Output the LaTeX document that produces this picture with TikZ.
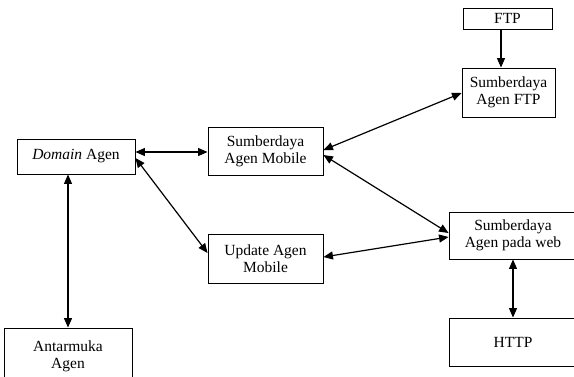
\documentclass[tikz,border=0pt]{standalone}
\usepackage{fontspec}
\setmainfont{Liberation Serif}
\usetikzlibrary{arrows.meta}
\begin{document}
\begin{tikzpicture}[x=1pt,y=-1pt,
  box/.style={draw,line width=0.9pt,align=center,inner sep=0pt,
    font=\fontsize{15.5}{17}\selectfont},
  link/.style={line width=1.2pt,{Triangle[length=9.5pt,width=8pt]}-{Triangle[length=9.5pt,width=8pt]}},
  feed/.style={line width=1.2pt,-{Triangle[length=9.5pt,width=8pt]}}]
\useasboundingbox (0,0) rectangle (574,376);

% agent blocks
\node[box,minimum width=118pt,minimum height=35pt] (dom) at (76,156.5) {\textit{Domain} Agen};
\node[box,minimum width=115pt,minimum height=48pt] (sam) at (265.5,151) {Sumberdaya\\Agen Mobile};
\node[box,minimum width=115pt,minimum height=49pt] (upd) at (265.5,258.5) {Update Agen\\Mobile};
\node[box,minimum width=89pt,minimum height=21pt] (ftp) at (507.5,18.5) {FTP};
\node[box,minimum width=93pt,minimum height=49pt] (saftp) at (508.5,92.5) {Sumberdaya\\Agen FTP};
\node[box,minimum width=128pt,minimum height=47pt] (web) at (513,235.5) {Sumberdaya\\Agen pada web};
\node[box,minimum width=128pt,minimum height=48pt] (http) at (513,342) {HTTP};
\node[box,minimum width=128pt,minimum height=56pt] (ui) at (68,356) {Antarmuka\\Agen};

% connections
\draw[link] ([yshift=4.5pt]dom.east) -- (sam.west |- 0,152);
\draw[link] ([yshift=-1.5pt]dom.east) -- ([yshift=5.5pt]upd.west);
\draw[link] ([xshift=-8pt]dom.south) -- (ui.north);
\draw[link] ([yshift=1pt]sam.east) -- ([yshift=-0.5pt]saftp.west);
\draw[link] ([yshift=-4pt]sam.east) -- ([yshift=2.5pt]web.west);
\draw[link] ([yshift=1.5pt]upd.east) -- ([yshift=-1.5pt]web.west);
\draw[feed] ([xshift=-6.5pt]ftp.south) -- ([xshift=-7.5pt]saftp.north);
\draw[link] (web.south) -- (http.north);
\end{tikzpicture}
\end{document}
